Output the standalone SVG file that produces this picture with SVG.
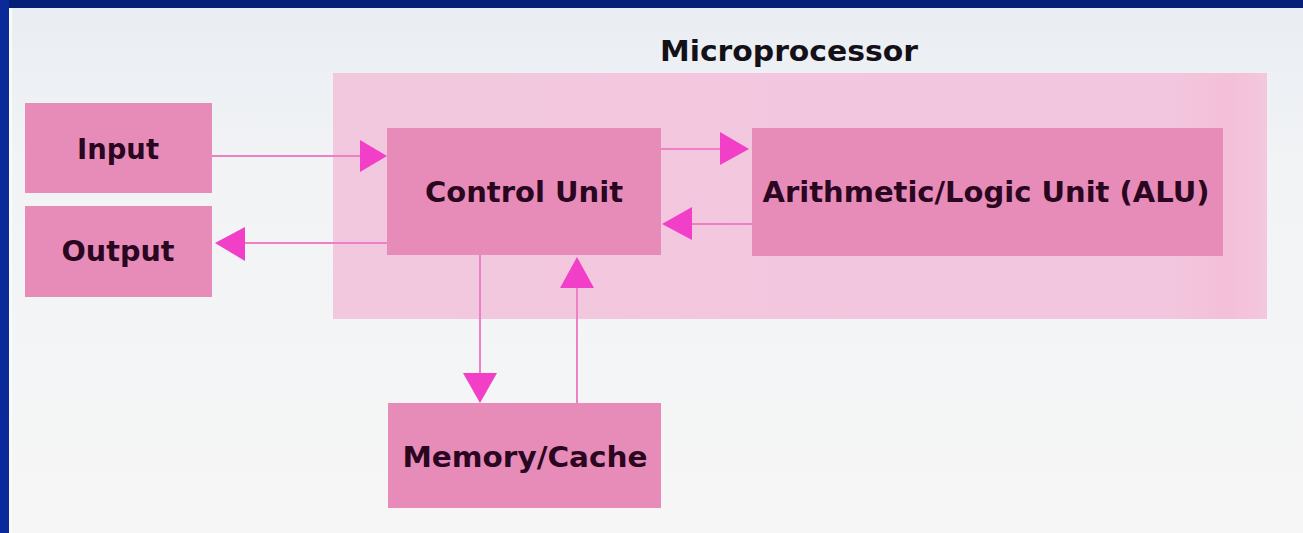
<svg xmlns="http://www.w3.org/2000/svg" width="1303" height="533" viewBox="0 0 1303 533">
  <defs>
    <linearGradient id="bg" x1="0" y1="0" x2="0" y2="1">
      <stop offset="0" stop-color="#e9edf3"/>
      <stop offset="0.3" stop-color="#f1f3f5"/>
      <stop offset="1" stop-color="#f6f6f6"/>
    </linearGradient>
    <linearGradient id="cont" x1="0" y1="0" x2="1" y2="0">
      <stop offset="0" stop-color="#f2c8df"/>
      <stop offset="0.9" stop-color="#f2c6de"/>
      <stop offset="0.96" stop-color="#f4bfd8"/>
      <stop offset="1" stop-color="#f3c8de"/>
    </linearGradient>
    <style>
      .box { fill: #e78bb9; }
      .lbl { font-family: "DejaVu Sans", "Liberation Sans", sans-serif; font-weight: bold; font-size: 28px; fill: #2a0620; text-anchor: middle; }
      .ln { stroke: #ee80c6; stroke-width: 2; fill: none; }
      .ah { fill: #f23fc8; }
    </style>
  </defs>
  <rect x="0" y="0" width="1303" height="533" fill="url(#bg)"/>
  <rect x="0" y="0" width="1303" height="8" fill="#062078"/>
  <rect x="0" y="0" width="9" height="533" fill="#0a2a9a"/>
  <rect x="9" y="8" width="3" height="525" fill="#f8fafc"/>

  <g id="microprocessor">
    <rect x="333" y="73" width="934" height="246" fill="url(#cont)"/>
    <text class="lbl" x="789" y="61" font-size="27" fill="#141018" style="fill:#141018" textLength="258" lengthAdjust="spacingAndGlyphs">Microprocessor</text>
  </g>

  <g id="input">
    <rect class="box" x="25" y="103" width="187" height="90"/>
    <text class="lbl" x="118" y="159" textLength="82" lengthAdjust="spacingAndGlyphs">Input</text>
  </g>
  <g id="output">
    <rect class="box" x="25" y="206" width="187" height="91"/>
    <text class="lbl" x="118" y="261" textLength="113" lengthAdjust="spacingAndGlyphs">Output</text>
  </g>
  <g id="control-unit">
    <rect class="box" x="387" y="128" width="274" height="127"/>
    <text class="lbl" x="524" y="202" textLength="198" lengthAdjust="spacingAndGlyphs">Control Unit</text>
  </g>
  <g id="alu">
    <rect class="box" x="752" y="128" width="471" height="128"/>
    <text class="lbl" x="986" y="202" textLength="447" lengthAdjust="spacingAndGlyphs">Arithmetic/Logic Unit (ALU)</text>
  </g>
  <g id="memory-cache">
    <rect class="box" x="388" y="403" width="273" height="105"/>
    <text class="lbl" x="525" y="467" textLength="245" lengthAdjust="spacingAndGlyphs">Memory/Cache</text>
  </g>

  <g id="connectors">
    <line class="ln" x1="212" y1="156" x2="362" y2="156"/>
    <polygon class="ah" points="387,156 360,140 360,172"/>
    <line class="ln" x1="661" y1="149" x2="722" y2="149"/>
    <polygon class="ah" points="749,149 720,132 720,165"/>
    <line class="ln" x1="752" y1="224" x2="690" y2="224"/>
    <polygon class="ah" points="662,224 692,207 692,240"/>
    <line class="ln" x1="387" y1="243" x2="243" y2="243"/>
    <polygon class="ah" points="215,243 245,227 245,261"/>
    <line class="ln" x1="480" y1="255" x2="480" y2="375"/>
    <polygon class="ah" points="480,403 463,373 497,373"/>
    <line class="ln" x1="577" y1="403" x2="577" y2="286"/>
    <polygon class="ah" points="577,257 560,288 594,288"/>
  </g>
</svg>
